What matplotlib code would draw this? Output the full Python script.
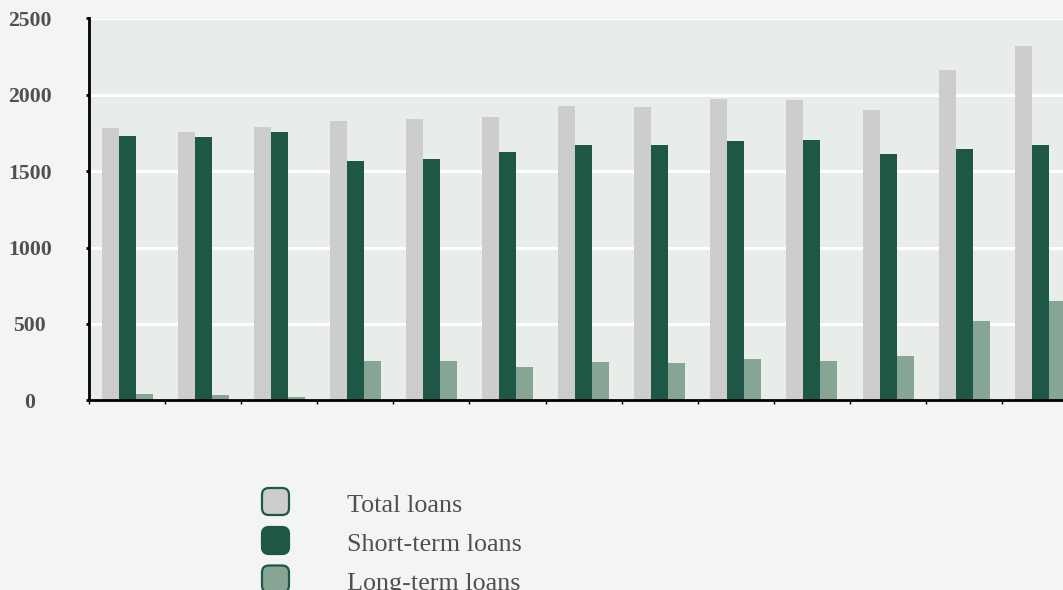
import matplotlib
matplotlib.use("Agg")
import matplotlib.pyplot as plt
from matplotlib.patches import FancyBboxPatch
import numpy as np

# ---- data ----
total_loans = [1780, 1760, 1787, 1832, 1842, 1855, 1927, 1921, 1973, 1966, 1904, 2166, 2317]
short_term = [1728, 1721, 1754, 1564, 1580, 1626, 1672, 1672, 1698, 1705, 1616, 1643, 1669]
long_term = [41, 35, 22, 257, 257, 218, 251, 244, 270, 257, 288, 517, 648]
series_names = ["Total loans", "Short-term loans", "Long-term loans"]
y_ticks = [0, 500, 1000, 1500, 2000, 2500]

colors = ["#cdcdcd", "#1f5747", "#87a595"]
fig_bg = "#f3f5f4"
ax_bg = "#e8edea"
text_col = "#505050"

W, H = 1063, 590
fig = plt.figure(figsize=(W / 100, H / 100), dpi=100, facecolor=fig_bg)

# axes geometry in pixels
left_px, right_px, top_px, bottom_px = 89, 1078.3, 18.5, 400.3
ax = fig.add_axes([left_px / W, 1 - bottom_px / H, (right_px - left_px) / W, (bottom_px - top_px) / H])
ax.set_facecolor(ax_bg)

x = np.arange(len(total_loans))
bw = 0.2235
for off, vals, c in zip([-bw, 0, bw], [total_loans, short_term, long_term], colors):
    ax.bar(x + off, vals, width=bw, color=c, linewidth=0, zorder=3)

ax.set_xlim(-0.5, len(total_loans) - 0.5)
ax.set_ylim(0, 2500)

ax.set_yticks(y_ticks)
ax.set_yticklabels([str(v) for v in y_ticks], fontfamily="Liberation Serif",
                   fontweight="bold", fontsize=15.7, color=text_col)
for lab in ax.get_yticklabels():
    lab.set_horizontalalignment("center")
ax.tick_params(axis="y", length=2.5, width=2, color="black", pad=40)

ax.set_xticks(np.arange(-0.5, len(total_loans), 1.0))
ax.set_xticklabels([])
ax.tick_params(axis="x", length=3, width=1, color="black")

ax.grid(axis="y", color="white", linewidth=2.2, zorder=1)
ax.set_axisbelow(True)
for s in ["top", "right"]:
    ax.spines[s].set_visible(False)
for s in ["left", "bottom"]:
    ax.spines[s].set_linewidth(2)
    ax.spines[s].set_color("black")
    ax.spines[s].set_zorder(5)

# ---- legend (rounded square swatches) ----
sw_x0, sw_size = 262, 27
row_tops = [488, 527, 565.5]
for name, c, top in zip(series_names, colors, row_tops):
    p = FancyBboxPatch((sw_x0 / W, 1 - (top + sw_size) / H), sw_size / W, sw_size / H,
                       boxstyle="round,pad=0,rounding_size=0.0065",
                       transform=fig.transFigure, facecolor=c, edgecolor="#1f5747",
                       linewidth=1.6, mutation_aspect=W / H)
    fig.patches.append(p)
    cy = top + sw_size / 2
    fig.text(347 / W, 1 - (cy + 10.8) / H, name, fontfamily="Liberation Serif",
             fontsize=18.8, color=text_col, va="baseline", ha="left")

fig.savefig("out.png", dpi=100, facecolor=fig_bg)
